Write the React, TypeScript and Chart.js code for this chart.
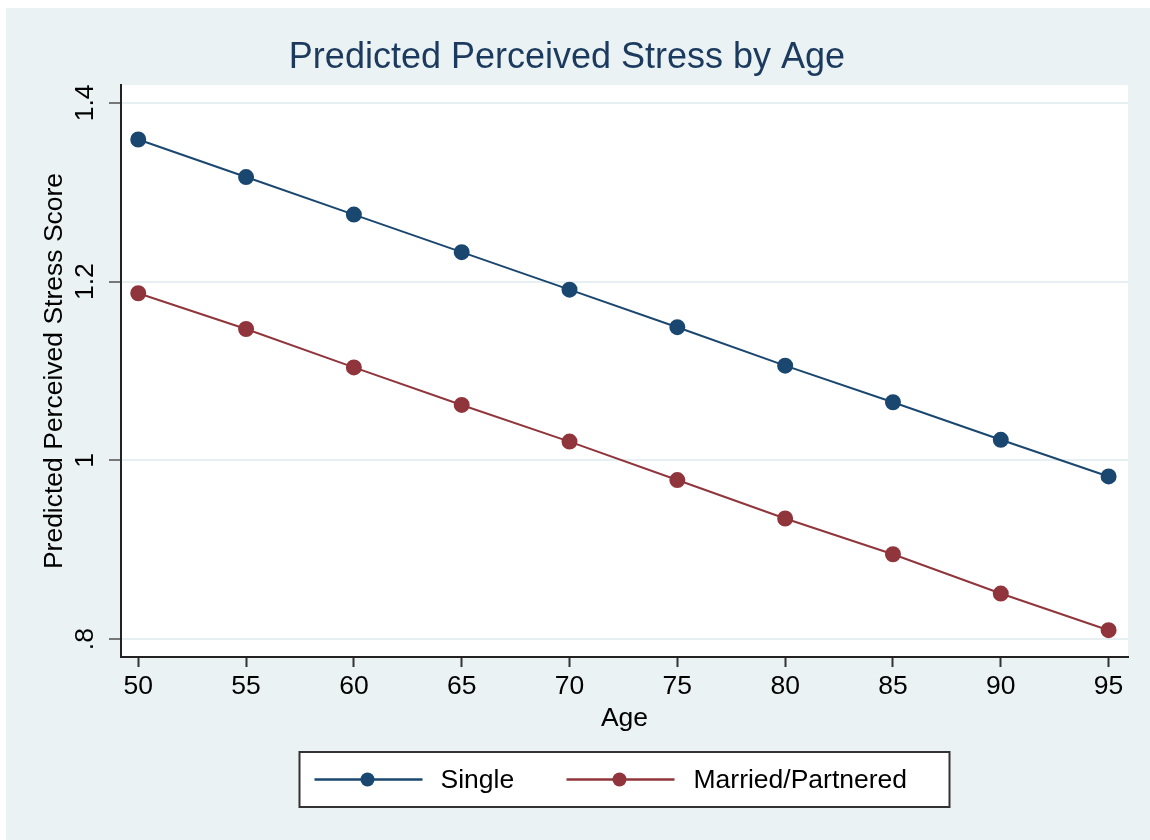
import React, { useEffect, useRef } from "react";
import { Chart, registerables } from "chart.js";

Chart.register(...registerables);

const ages = [50, 55, 60, 65, 70, 75, 80, 85, 90, 95];
const singleStress = [1.359, 1.317, 1.275, 1.233, 1.191, 1.149, 1.106, 1.065, 1.023, 0.982];
const marriedStress = [1.187, 1.147, 1.104, 1.062, 1.021, 0.978, 0.935, 0.895, 0.851, 0.81];
const yTicks = [0.8, 1, 1.2, 1.4];
const yTickLabels = [".8", "1", "1.2", "1.4"];
const xTicks = [50, 55, 60, 65, 70, 75, 80, 85, 90, 95];
const seriesNames = ["Single", "Married/Partnered"];
const seriesColors = ["#1a476f", "#90353b"];

const BG = "#eaf2f3";
const FONT = "'Liberation Sans', Arial, Helvetica, sans-serif";
const TXT = 26.5;

const backgroundPlugin = {
  id: "stataBackground",
  beforeDraw(chart: any) {
    const { ctx, chartArea } = chart;
    ctx.save();
    ctx.fillStyle = BG;
    ctx.fillRect(0, 0, chart.width, chart.height);
    ctx.fillStyle = "#ffffff";
    ctx.fillRect(chartArea.left, chartArea.top, chartArea.right - chartArea.left, chartArea.bottom - chartArea.top);
    ctx.restore();
  },
};

const legendPlugin = {
  id: "stataLegend",
  afterDraw(chart: any) {
    const { ctx, chartArea } = chart;
    const cx = (chartArea.left + chartArea.right) / 2;
    const boxW = 650;
    const boxH = 55;
    const boxX = cx - boxW / 2;
    const boxY = 744;
    ctx.save();
    ctx.fillStyle = "#ffffff";
    ctx.fillRect(boxX, boxY, boxW, boxH);
    ctx.strokeStyle = "#333333";
    ctx.lineWidth = 2;
    ctx.strokeRect(boxX, boxY, boxW, boxH);
    const cy = boxY + boxH / 2;
    const items = [
      { lineStart: 15, text: 141 },
      { lineStart: 267, text: 394 },
    ];
    ctx.font = `${TXT}px ${FONT}`;
    ctx.textBaseline = "middle";
    ctx.textAlign = "left";
    chart.data.datasets.forEach((ds: any, i: number) => {
      const it = items[i];
      const x0 = boxX + it.lineStart;
      ctx.strokeStyle = ds.borderColor;
      ctx.lineWidth = 2.5;
      ctx.beginPath();
      ctx.moveTo(x0, cy);
      ctx.lineTo(x0 + 108, cy);
      ctx.stroke();
      ctx.fillStyle = ds.pointBackgroundColor;
      ctx.beginPath();
      ctx.arc(x0 + 53, cy, 7, 0, Math.PI * 2);
      ctx.fill();
      ctx.fillStyle = "#000000";
      ctx.fillText(ds.label, boxX + it.text, cy + 1);
    });
    ctx.restore();
  },
};

export default function App() {
  const canvasRef = useRef<HTMLCanvasElement | null>(null);

  useEffect(() => {
    if (!canvasRef.current) return;
    const chart = new Chart(canvasRef.current, {
      type: "line",
      data: {
        datasets: [
          {
            label: seriesNames[0],
            data: ages.map((a, i) => ({ x: a, y: singleStress[i] })),
            borderColor: seriesColors[0],
            backgroundColor: seriesColors[0],
            pointBackgroundColor: seriesColors[0],
            pointBorderColor: seriesColors[0],
            pointRadius: 7,
            borderWidth: 2,
          },
          {
            label: seriesNames[1],
            data: ages.map((a, i) => ({ x: a, y: marriedStress[i] })),
            borderColor: seriesColors[1],
            backgroundColor: seriesColors[1],
            pointBackgroundColor: seriesColors[1],
            pointBorderColor: seriesColors[1],
            pointRadius: 7,
            borderWidth: 2,
          },
        ],
      },
      options: {
        responsive: false,
        animation: false,
        devicePixelRatio: 1,
        layout: { padding: { left: 0, top: 0, right: 22, bottom: 93 } },
        plugins: {
          legend: { display: false },
          tooltip: { enabled: false },
          title: {
            display: true,
            text: "Predicted Perceived Stress by Age",
            color: "#1c3a5e",
            font: { family: FONT, size: 36, weight: "normal", lineHeight: 1.2 },
            padding: { top: 28, bottom: 5.8 },
          },
        },
        scales: {
          x: {
            type: "linear",
            min: 49.2,
            max: 95.9,
            afterBuildTicks: (scale: any) => {
              scale.ticks = xTicks.map((v) => ({ value: v }));
            },
            afterFit: (scale: any) => {
              scale.height = 90;
            },
            ticks: {
              color: "#000",
              font: { family: FONT, size: TXT },
              padding: 4,
              maxRotation: 0,
              callback: (v: any) => String(v),
            },
            grid: {
              drawOnChartArea: false,
              drawTicks: true,
              tickLength: 10,
              tickColor: "#333",
              tickWidth: 2,
            },
            border: { display: true, color: "#222", width: 2 },
            title: {
              display: true,
              text: "Age",
              color: "#000",
              font: { family: FONT, size: TXT, lineHeight: 1.2 },
              padding: { top: 0, bottom: 12 },
            },
          },
          y: {
            type: "linear",
            min: 0.78,
            max: 1.42,
            afterBuildTicks: (scale: any) => {
              scale.ticks = yTicks.map((v) => ({ value: v }));
            },
            afterFit: (scale: any) => {
              scale.width = 115;
            },
            ticks: {
              color: "#000",
              font: { family: FONT, size: TXT },
              padding: 5,
              minRotation: 90,
              maxRotation: 90,
              crossAlign: "center",
              callback: (v: any) => {
                const idx = yTicks.findIndex((t) => Math.abs(t - v) < 1e-9);
                return idx >= 0 ? yTickLabels[idx] : "";
              },
            },
            grid: {
              drawOnChartArea: true,
              drawTicks: true,
              tickLength: 12,
              color: "#e6eff1",
              lineWidth: 2,
              tickColor: "#777",
              tickWidth: 2,
            },
            border: { display: true, color: "#222", width: 2 },
            title: {
              display: true,
              text: "Predicted Perceived Stress Score",
              color: "#000",
              font: { family: FONT, size: TXT, lineHeight: 1.2 },
              padding: { top: 33, bottom: 0 },
            },
          },
        },
      } as any,
      plugins: [backgroundPlugin, legendPlugin],
    });
    return () => chart.destroy();
  }, []);

  return (
    <div style={{ position: "absolute", left: 6, top: 8, width: 1144, height: 832 }}>
      <canvas ref={canvasRef} width={1144} height={832} style={{ width: 1144, height: 832, display: "block" }} />
    </div>
  );
}
